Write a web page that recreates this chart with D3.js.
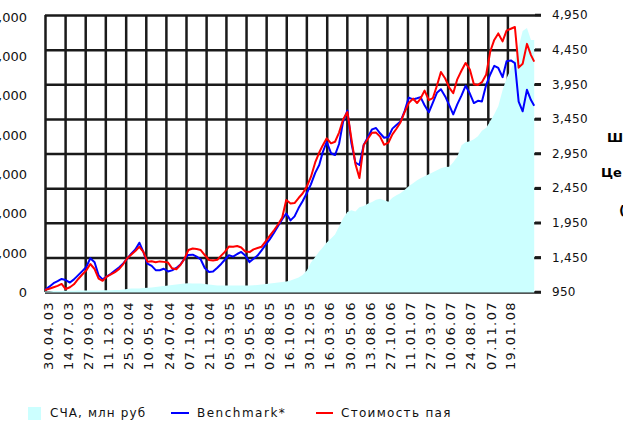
<!DOCTYPE html>
<html><head><meta charset="utf-8">
<script src="https://cdn.jsdelivr.net/npm/d3@7"></script>
<style>body{margin:0;background:#fff;overflow:hidden} text{font-family:"DejaVu Sans",sans-serif}</style>
</head><body><svg id="c" width="623" height="425"></svg>
<script>
const dates = [
"2003-04-30","2003-05-16","2003-06-01","2003-06-16","2003-07-01","2003-07-16","2003-08-01","2003-08-16","2003-09-01","2003-09-16","2003-10-01","2003-10-16","2003-11-01","2003-11-16","2003-12-01","2003-12-16",
"2004-01-01","2004-01-16","2004-02-01","2004-02-16","2004-03-01","2004-03-16","2004-04-01","2004-04-16","2004-05-01","2004-05-16","2004-06-01","2004-06-16","2004-07-01","2004-07-16","2004-08-01","2004-08-16","2004-09-01","2004-09-16","2004-10-01","2004-10-16","2004-11-01","2004-11-16","2004-12-01","2004-12-16",
"2005-01-01","2005-01-16","2005-02-01","2005-02-16","2005-03-01","2005-03-16","2005-04-01","2005-04-16","2005-05-01","2005-05-16","2005-06-01","2005-06-16","2005-07-01","2005-07-16","2005-08-01","2005-08-16","2005-09-01","2005-09-16","2005-10-01","2005-10-16","2005-11-01","2005-11-16","2005-12-01","2005-12-16",
"2006-01-01","2006-01-16","2006-02-01","2006-02-16","2006-03-01","2006-03-16","2006-04-01","2006-04-16","2006-05-01","2006-05-16","2006-06-01","2006-06-16","2006-07-01","2006-07-16","2006-08-01","2006-08-16","2006-09-01","2006-09-16","2006-10-01","2006-10-16","2006-11-01","2006-11-16","2006-12-01","2006-12-16",
"2007-01-01","2007-01-16","2007-02-01","2007-02-16","2007-03-01","2007-03-16","2007-04-01","2007-04-16","2007-05-01","2007-05-16","2007-06-01","2007-06-16","2007-07-01","2007-07-16","2007-08-01","2007-08-16","2007-09-01","2007-09-16","2007-10-01","2007-10-16","2007-11-01","2007-11-16","2007-12-01","2007-12-16",
"2008-01-01","2008-01-16","2008-02-01","2008-02-16","2008-03-01","2008-03-16","2008-04-01","2008-04-16","2008-04-28"];

const benchmark = [
980,1027,1077,1106,1138,1123,1086,1132,1194,1252,1311,1437,1379,1190,1132,1171,
1213,1260,1307,1362,1427,1499,1564,1662,1528,1359,1327,1265,1265,1286,1247,1262,1297,1346,1431,1486,1489,1460,1419,1297,
1239,1245,1301,1359,1416,1481,1461,1499,1528,1477,1382,1429,1476,1552,1637,1714,1809,1906,2000,2084,1984,2042,2162,2260,
2380,2505,2670,2785,2966,3120,2954,2928,3087,3408,3569,3100,2820,2784,3074,3181,3299,3318,3242,3177,3188,3309,3363,3411,
3565,3757,3731,3748,3764,3647,3545,3685,3826,3878,3774,3649,3515,3659,3789,3928,3815,3678,3711,3702,3942,4091,4216,4185,
4052,4283,4294,4255,3698,3559,3870,3721,3639];

const navPrice = [
980,996,1018,1038,1066,993,1018,1061,1138,1203,1262,1354,1282,1143,1112,1171,
1203,1237,1284,1354,1434,1487,1542,1603,1528,1388,1395,1380,1392,1385,1375,1292,1278,1340,1427,1556,1578,1571,1556,1484,
1412,1405,1415,1479,1529,1606,1604,1614,1593,1536,1526,1565,1585,1604,1686,1763,1845,1929,2027,2278,2228,2235,2307,2372,
2475,2611,2821,2964,3067,3169,3097,3120,3252,3442,3549,3164,2800,2596,3073,3159,3250,3252,3193,3076,3106,3227,3308,3398,
3552,3679,3743,3679,3744,3858,3722,3751,3929,4127,4033,3902,3821,4021,4148,4258,4163,3949,3939,3980,4091,4423,4590,4684,
4569,4725,4752,4777,4190,4245,4533,4371,4276];

const scaValues = [
25,25,38,38,38,43,46,46,51,51,51,51,51,51,56,56,
59,61,64,76,89,102,102,102,115,120,127,140,153,165,178,191,204,216,229,237,229,229,229,216,
204,191,178,178,178,178,178,178,178,178,178,183,191,204,216,229,242,255,267,280,305,344,382,445,
560,764,903,1043,1145,1273,1374,1476,1680,1883,2044,2087,2061,2163,2201,2257,2298,2354,2385,2341,2303,2405,2469,2520,
2609,2698,2774,2850,2901,2952,3003,3054,3105,3156,3189,3194,3309,3448,3741,3818,3843,3894,3970,4110,4187,4352,4530,4734,
5141,5446,5675,5904,6235,6642,6719,6413,6413];

const xTickLabels = ["30.04.03","14.07.03","27.09.03","11.12.03","25.02.04","10.05.04","24.07.04","07.10.04","21.12.04","05.03.05","19.05.05","02.08.05",
"16.10.05","30.12.05","16.03.06","30.05.06","13.08.06","27.10.06","11.01.07","27.03.07","10.06.07","24.08.07","07.11.07","19.01.08"];
const rightTicks = [950,1450,1950,2450,2950,3450,3950,4450,4950];
const leftTicks = [0,1000,2000,3000,4000,5000,6000,7000];
const seriesNames = ["СЧА, млн руб","Benchmark*","Стоимость пая"];
const sideTexts = ["Ш","Це","("];

const parse = d3.timeParse("%Y-%m-%d");
const parseTick = d3.timeParse("%d.%m.%y");
const svg = d3.select("#c");

const L=45, R=535, T=15, B=292;
const x = d3.scaleTime().domain([parse("2003-04-30"), parse("2008-05-01")]).range([L,R]);
const yR = d3.scaleLinear().domain([950,4950]).range([B,T]);
const yL = d3.scaleLinear().domain([0,7000]).range([292.5,17]);

const rows = dates.map((d,i)=>({d:parse(d), b:benchmark[i], n:navPrice[i], s:scaValues[i]}));

// gridlines via d3 axes with full-length ticks
const gx = svg.append("g").attr("transform",`translate(0,${T})`)
  .call(d3.axisBottom(x).tickValues(xTickLabels.map(parseTick)).tickSize(B-T).tickFormat(""));
gx.select(".domain").remove();
gx.selectAll(".tick line").attr("stroke","#1a1a1a").attr("stroke-width",2.5);

const gy = svg.append("g").attr("transform",`translate(${R+6},0)`)
  .call(d3.axisLeft(yR).tickValues(rightTicks).tickSize(R+6-L).tickFormat(""));
gy.select(".domain").remove();
gy.selectAll(".tick line").attr("stroke","#1a1a1a").attr("stroke-width",2.5);

// area (drawn over gridlines, like the reference)
const area = d3.area().x(r=>x(r.d)).y0(yL(0)).y1(r=>yL(r.s));
svg.append("path").datum(rows).attr("d",area).attr("fill","#ccffff");

// lines
const lineB = d3.line().x(r=>x(r.d)).y(r=>yR(r.b));
const lineN = d3.line().x(r=>x(r.d)).y(r=>yR(r.n));
svg.append("path").datum(rows).attr("d",lineB).attr("fill","none").attr("stroke","#0000ff").attr("stroke-width",2).attr("stroke-linejoin","round");
svg.append("path").datum(rows).attr("d",lineN).attr("fill","none").attr("stroke","#ff0000").attr("stroke-width",2).attr("stroke-linejoin","round");

// right-axis tick marks
rightTicks.forEach(v=>{
  svg.append("rect").attr("x",R).attr("y",yR(v)-1.25).attr("width",6).attr("height",2.5).attr("fill","#1a1a1a");
  svg.append("text").attr("x",552).attr("y",yR(v)).attr("dy","0.36em").attr("font-size",12).attr("letter-spacing",0.3).attr("fill","#111")
    .text(d3.format(",")(v));
});

// left axis labels
leftTicks.forEach(v=>{
  svg.append("text").attr("x",27).attr("y",yL(v)).attr("dy","0.36em").attr("text-anchor","end").attr("font-size",13).attr("fill","#111")
    .text(d3.format(",")(v));
});

// x labels
xTickLabels.forEach(t=>{
  const xx = x(parseTick(t)) + 3;
  svg.append("text").attr("transform",`translate(${xx},301) rotate(-90)`).attr("text-anchor","end").attr("dy","0.36em")
    .attr("font-size",13).attr("letter-spacing",1.4).attr("fill","#111").text(t);
});

// legend
const lg = svg.append("g");
lg.append("rect").attr("x",28).attr("y",407).attr("width",13).attr("height",13).attr("fill","#ccffff");
lg.append("text").attr("x",50).attr("y",413).attr("dy","0.36em").attr("font-size",12).attr("letter-spacing",1.1).attr("fill","#111").text(seriesNames[0]);
lg.append("line").attr("x1",171).attr("x2",189).attr("y1",413).attr("y2",413).attr("stroke","#0000ff").attr("stroke-width",2);
lg.append("text").attr("x",197).attr("y",413).attr("dy","0.36em").attr("font-size",12).attr("letter-spacing",1.5).attr("fill","#111").text(seriesNames[1]);
lg.append("line").attr("x1",316).attr("x2",333).attr("y1",413).attr("y2",413).attr("stroke","#ff0000").attr("stroke-width",2);
lg.append("text").attr("x",341).attr("y",413).attr("dy","0.36em").attr("font-size",12).attr("letter-spacing",1.3).attr("fill","#111").text(seriesNames[2]);

// cut-off side captions
svg.append("text").attr("x",607).attr("y",142).attr("font-size",13).attr("font-weight","bold").text(sideTexts[0]);
svg.append("text").attr("x",601).attr("y",177).attr("font-size",13).attr("font-weight","bold").text(sideTexts[1]);
svg.append("text").attr("x",619).attr("y",215).attr("font-size",13).attr("font-weight","bold").text(sideTexts[2]);
</script></body></html>
